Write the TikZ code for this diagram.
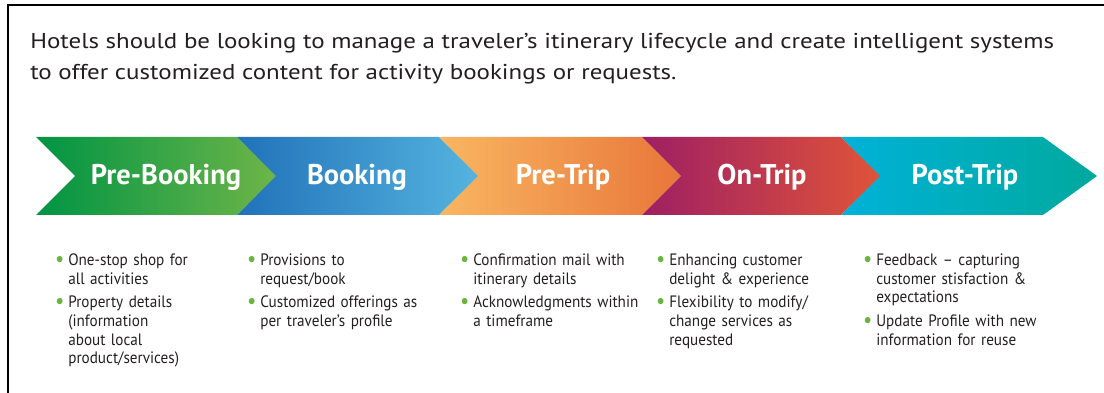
\documentclass[tikz,border=0pt]{standalone}
\usepackage{fontspec}
\setmainfont{PT Sans}
\newfontfamily\introfont[FakeStretch=1.16]{PT Sans}
\newfontfamily\listfont[FakeStretch=0.92]{PT Sans}
\usepackage{enumitem}
\usetikzlibrary{positioning}

\definecolor{textgray}{RGB}{35,31,32}
\definecolor{dotgreen}{RGB}{109,179,63}
\definecolor{pbA}{RGB}{0,148,68}     \definecolor{pbB}{RGB}{110,181,72}
\definecolor{bkA}{RGB}{33,114,185}   \definecolor{bkB}{RGB}{85,180,223}
\definecolor{ptA}{RGB}{249,182,97}   \definecolor{ptB}{RGB}{232,118,58}
\definecolor{otA}{RGB}{158,31,99}    \definecolor{otB}{RGB}{224,84,56}
\definecolor{psA}{RGB}{0,178,216}    \definecolor{psB}{RGB}{0,169,157}

\newcommand{\dotmark}{\textcolor{dotgreen}{\raisebox{-0.12ex}{\scalebox{1.35}{\textbullet}}}}
\setlist[itemize]{label=\dotmark, leftmargin=11pt, labelsep=4pt, itemsep=5pt,
  topsep=0pt, parsep=0pt, partopsep=0pt}

\begin{document}
\begin{tikzpicture}[x=1pt,y=-1pt,semithick]
\tikzstyle{stage}=[anchor=base,text=white,font=\fontsize{28.5}{30}\selectfont\bfseries]
\tikzstyle{list}=[anchor=north west,inner sep=0pt,text width=190pt,text=textgray,
  font=\listfont\fontsize{16.5}{18.7}\selectfont]
\useasboundingbox (0,0) rectangle (1104,393);

% frame, open at the right and at the bottom
\draw[line width=2.5pt] (8,393) -- (8,5) -- (1104,5);

\node[anchor=north west,inner sep=0pt,text=textgray,align=left,
  font=\introfont\fontsize{21.5}{31}\selectfont] (intro) at (30,33)
  {Hotels should be looking to manage a traveler’s itinerary lifecycle and create intelligent systems\\
   to offer customized content for activity bookings or requests.};

% the five chevrons
\foreach \xa/\xb/\tip/\ca/\cb in {36/237/40/pbA/pbB, 237/439/40/bkA/bkB,
    439/642/39/ptA/ptB, 642/841/40/otA/otB, 841/1043/54/psA/psB}
  \shade[left color=\ca,right color=\cb] (\xa,137) -- (\xb,137) -- (\xb+\tip,176)
    -- (\xb,215) -- (\xa,215) -- (\xa+39,176) -- cycle;

\node[stage] (preBooking) at (166,185) {Pre-Booking};
\node[stage] (booking) at (357,185) {Booking};
\node[stage] (preTrip) at (563,185) {Pre-Trip};
\node[stage] (onTrip) at (762,185) {On-Trip};
\node[stage] (postTrip) at (965,185) {Post-Trip};

% what each stage offers
\node[list] (preBookingList) at (57,246.5) {\begin{itemize}
  \item One-stop shop for\newline all activities
  \item Property details\newline (information\newline about local\newline product/services)
\end{itemize}};
\node[list] (bookingList) at (249,246.5) {\begin{itemize}
  \item Provisions to\newline request/book
  \item Customized offerings as\newline per traveler’s profile
\end{itemize}};
\node[list] (preTripList) at (462,246.5) {\begin{itemize}
  \item Confirmation mail with\newline itinerary details
  \item Acknowledgments within\newline a timeframe
\end{itemize}};
\node[list] (onTripList) at (658,246.5) {\begin{itemize}
  \item Enhancing customer\newline delight \& experience
  \item Flexibility to modify/\newline change services as\newline requested
\end{itemize}};
\node[list] (postTripList) at (865,246.5) {\begin{itemize}
  \item Feedback – capturing\newline customer stisfaction \&\newline expectations
  \item Update Profile with new\newline information for reuse
\end{itemize}};
\end{tikzpicture}
\end{document}
